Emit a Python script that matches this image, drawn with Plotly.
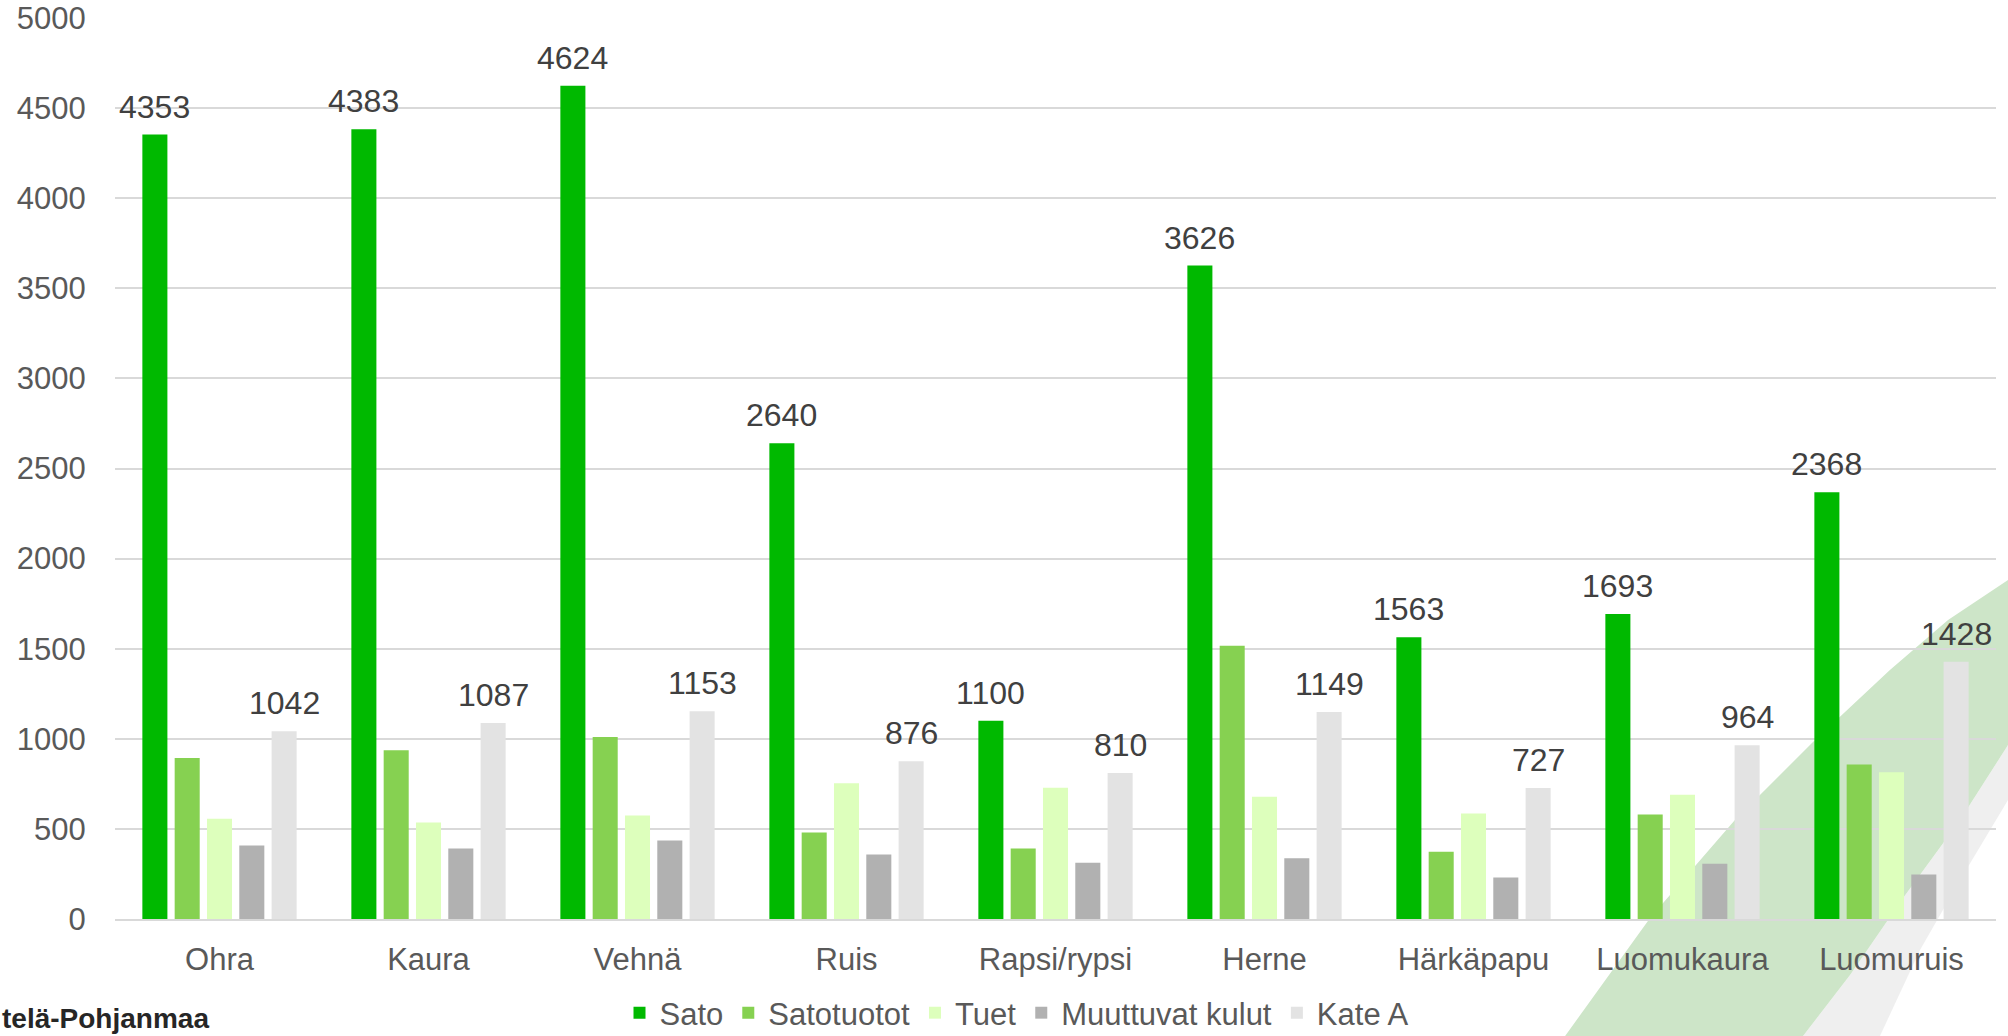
import plotly.graph_objects as go

categories = ["Ohra", "Kaura", "Vehnä", "Ruis", "Rapsi/rypsi", "Herne", "Härkäpapu", "Luomukaura", "Luomuruis"]
sato = [4353, 4383, 4624, 2640, 1100, 3626, 1563, 1693, 2368]
satotuotot = [894, 936, 1010, 480, 391, 1517, 373, 580, 857]
tuet = [556, 535, 574, 753, 729, 679, 585, 689, 814]
muuttuvat = [408, 391, 435, 358, 312, 337, 230, 306, 247]
kate_a = [1042, 1087, 1153, 876, 810, 1149, 727, 964, 1428]

series = [
    ("Sato", sato, "#00B900"),
    ("Satotuotot", satotuotot, "#86D151"),
    ("Tuet", tuet, "#DDFFBC"),
    ("Muuttuvat kulut", muuttuvat, "#B1B1B1"),
    ("Kate A", kate_a, "#E3E3E3"),
]

W, H = 2008, 1036
ML, MR, MT, MB = 115, 12, 18, 117
BARGAP, BARGROUPGAP = 0.227, 0.225
FONT = "Liberation Sans, Arial, sans-serif"

fig = go.Figure()
for name, vals, col in series:
    fig.add_trace(go.Bar(name=name, x=categories, y=vals, marker_color=col,
                         marker_line_width=0))

plot_w = W - ML - MR
plot_h = H - MT - MB
cat_w = plot_w / len(categories)
slot = cat_w * (1 - BARGAP) / len(series)


def px(xp, yp):
    return ((xp - ML) / plot_w, (H - MB - yp) / plot_h)


annotations = []
for idx, vals in ((0, sato), (4, kate_a)):
    for c, v in zip(categories, vals):
        annotations.append(dict(x=c, y=v, xref="x", yref="y", text=str(v),
                                showarrow=False, yanchor="bottom",
                                xshift=(idx - 2) * slot, yshift=8,
                                font=dict(size=32, color="#404040", family=FONT)))

lx, ly = px(0, 1036)
annotations.append(dict(x=lx, y=ly, xref="paper", yref="paper", xanchor="left", yanchor="bottom",
                        text="<b>telä-Pohjanmaa</b>", showarrow=False,
                        font=dict(size=28, color="#262626", family=FONT)))

band_upper = [(1565, 1036), (1650, 918), (1735, 820), (1813, 742), (1890, 670), (1948, 620), (2008, 580)]
band_lower = [(2008, 745), (1960, 820), (1903, 898), (1850, 975), (1803, 1036)]
shadow = [(1803, 1036), (1850, 975), (1903, 898), (1960, 820), (2008, 745), (2008, 800), (1960, 880), (1920, 950), (1880, 1036)]


def path_of(pts):
    ps = [px(a, b) for a, b in pts]
    return "M " + " L ".join(f"{x:.4f},{y:.4f}" for x, y in ps) + " Z"


shapes = [
    dict(type="path", xref="paper", yref="paper", layer="below",
         path=path_of(shadow), fillcolor="rgba(225,225,225,0.55)", line_width=0),
    dict(type="path", xref="paper", yref="paper", layer="below",
         path=path_of(band_upper + band_lower), fillcolor="#CDE5C8", line_width=0),
]

legx, legy = px(1017, 1013)
fig.update_layout(
    width=W, height=H,
    margin=dict(l=ML, r=MR, t=MT, b=MB, autoexpand=False),
    paper_bgcolor="white", plot_bgcolor="rgba(0,0,0,0)",
    barmode="group", bargap=BARGAP, bargroupgap=BARGROUPGAP,
    font=dict(family=FONT, color="#595959", size=31),
    showlegend=True,
    legend=dict(orientation="h", x=legx, xanchor="center",
                y=legy, yanchor="middle",
                font=dict(size=31, color="#595959", family=FONT),
                itemwidth=30, tracegroupgap=0, bgcolor="rgba(0,0,0,0)"),
    annotations=annotations,
    shapes=shapes,
)
fig.update_yaxes(range=[0, 5000], dtick=500, showgrid=True, gridcolor="#D9D9D9",
                 gridwidth=1.5, zeroline=False, showline=False,
                 ticks="outside", ticklen=22, tickcolor="rgba(0,0,0,0)",
                 tickfont=dict(size=31, color="#595959"))
fig.update_xaxes(showline=True, linecolor="#D9D9D9", linewidth=2,
                 ticks="outside", ticklen=12, tickcolor="rgba(0,0,0,0)",
                 tickfont=dict(size=31, color="#595959"))

fig.write_html("out.html",
               config={"displayModeBar": False},
               post_script="document.body.style.margin='0px';document.body.style.overflow='hidden';")
